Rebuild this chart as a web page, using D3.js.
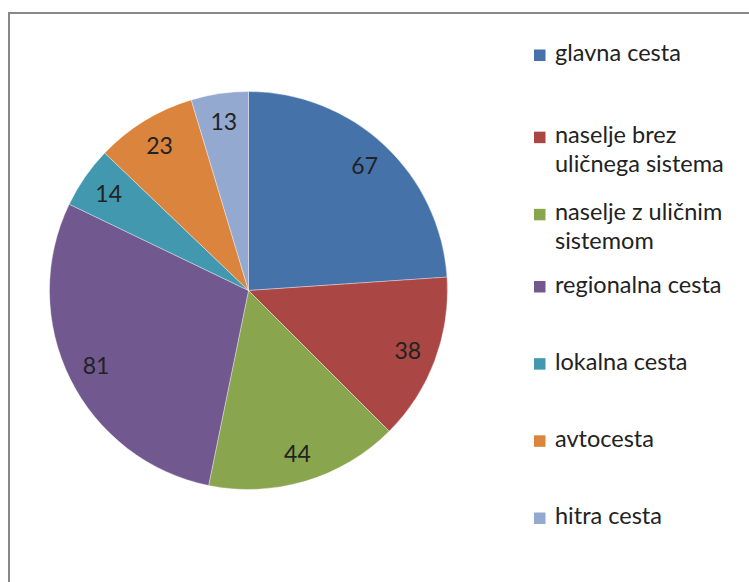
<!DOCTYPE html>
<html><head><meta charset="utf-8">
<script src="https://cdn.jsdelivr.net/npm/d3@7"></script>
<style>html,body{margin:0;padding:0;background:#fff;}svg{display:block;}</style>
</head><body>
<svg id="c" width="749" height="582"></svg>
<script>
const categories = ["glavna cesta","naselje brez uličnega sistema","naselje z uličnim sistemom","regionalna cesta","lokalna cesta","avtocesta","hitra cesta"];
const legendLines = [["glavna cesta"],["naselje brez","uličnega sistema"],["naselje z uličnim","sistemom"],["regionalna cesta"],["lokalna cesta"],["avtocesta"],["hitra cesta"]];
const values = [67,38,44,81,14,23,13];
const colors = ["#4572A8","#AA4643","#89A54E","#71588F","#4198AF","#DB843D","#93A9CF"];

const svg = d3.select("#c");
const font = "Lato, 'Open Sans', sans-serif";

svg.append("rect").attr("x",9).attr("y",13).attr("width",900).attr("height",800)
  .attr("fill","#fff").attr("stroke","#898989").attr("stroke-width",2);

const cx = 248.5, cy = 290.5, r = 199;
const pie = d3.pie().sort(null).value(d=>d);
const arcs = pie(values);
const arc = d3.arc().innerRadius(0).outerRadius(r);
const labelArc = d3.arc().innerRadius(r*0.855).outerRadius(r*0.855);
const g = svg.append("g").attr("transform",`translate(${cx},${cy})`);
g.selectAll("path").data(arcs).join("path")
  .attr("d",arc).attr("fill",(d,i)=>colors[i])
  .attr("stroke","#fff").attr("stroke-width",0.6).attr("stroke-opacity",0.6);
g.selectAll("text").data(arcs).join("text")
  .attr("transform",d=>{const c=labelArc.centroid(d);return `translate(${c[0]},${c[1]})`;})
  .attr("text-anchor","middle").attr("dy","0.36em")
  .attr("font-family",font).attr("font-size",23).attr("fill","#222")
  .text(d=>d.data);

// legend
const slot = d3.scaleLinear().domain([0,6]).range([61,524]);
const lg = svg.append("g");
legendLines.forEach((lines,i)=>{
  const base = slot(i) + (lines.length>1?5:0);
  lg.append("rect").attr("x",534).attr("y",base-11.5).attr("width",11.5).attr("height",11.5).attr("fill",colors[i]);
  lines.forEach((t,j)=>{
    lg.append("text").attr("x",555).attr("y",base+j*28.5)
      .attr("font-family",font).attr("font-size",23.5).attr("fill","#222").text(t);
  });
});
</script>
</body></html>
